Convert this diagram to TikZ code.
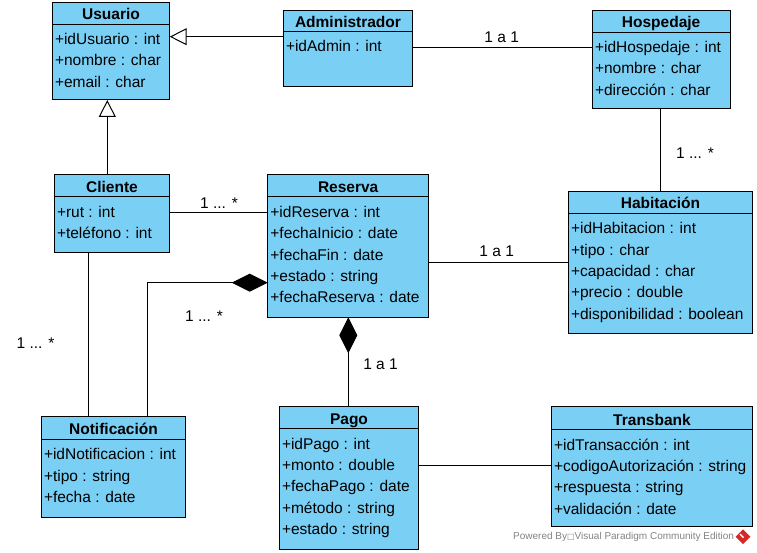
\documentclass[tikz,border=0pt]{standalone}
\usepackage{fontspec}
\setmainfont{Liberation Sans}
\newfontfamily\symfont{DejaVu Sans}
\usetikzlibrary{arrows.meta}
\definecolor{classfill}{RGB}{122,207,245}
\definecolor{wmgray}{RGB}{130,130,130}
\definecolor{logored}{RGB}{214,40,40}
\tikzset{
  classbox/.style={draw=black, fill=classfill, line width=1pt, inner sep=0pt, outer sep=0pt},
  boxline/.style={draw=black, line width=1pt},
  titletext/.style={font=\fontsize{15.5}{18}\selectfont\bfseries, inner sep=0pt, anchor=base},
  attrtext/.style={font=\fontsize{15.5}{18}\selectfont, inner sep=0pt, anchor=base west},
  multlabel/.style={font=\fontsize{15.5}{18}\selectfont, inner sep=0pt, anchor=center},
  assoc/.style={draw=black, line width=1pt},
  gen/.style={assoc, -{Triangle[open, length=17pt, width=17pt, line width=1pt]}},
  comp/.style={assoc, {Diamond[length=36pt, width=18pt]}-},
}
\newcommand{\umlbox}[8]{%
  \node[classbox, minimum width={#4-#2}, minimum height={#5-#3}, anchor=north west] (#1) at (#2,#3) {};
  \draw[boxline] (#2,#6) -- (#4,#6);
  \node[titletext] (#1-title) at ({(#2+#4)/2},#6-4.5) {#7};
  \foreach \attrtxt [count=\k from 0] in {#8} {
    \node[attrtext] (#1-a\k) at (#2+2.5,#6+20.3+21.4*\k) {\attrtxt};
  }%
}
\begin{document}
\begin{tikzpicture}[x=1pt, y=-1pt]
\useasboundingbox (0,0) rectangle (757,553);

\umlbox{usuario}{52.3}{2.3}{169.7}{100}{24.3}{Usuario}{+idUsuario : int, +nombre : char, +email : char}
\umlbox{admin}{283.3}{10.7}{412.7}{86.7}{31.7}{Administrador}{+idAdmin : int}
\umlbox{hosp}{592.3}{10.3}{730}{108.7}{32.3}{Hospedaje}{+idHospedaje : int, +nombre : char, +dirección : char}
\umlbox{cliente}{54.3}{175}{169.7}{252.3}{197}{Cliente}{+rut : int, +teléfono : int}
\umlbox{reserva}{267.7}{175}{428.7}{317.3}{197}{Reserva}{+idReserva : int, +fechaInicio : date, +fechaFin : date, +estado : string, +fechaReserva : date}
\umlbox{hab}{568.3}{191.7}{752.7}{333.3}{213.3}{Habitación}{+idHabitacion : int, +tipo : char, +capacidad : char, +precio : double, +disponibilidad : boolean}
\umlbox{notif}{41.3}{416.3}{185.7}{517.3}{439.3}{Notificación}{+idNotificacion : int, +tipo : string, +fecha : date}
\umlbox{pago}{279.3}{406.3}{418.7}{549}{428.7}{Pago}{+idPago : int, +monto : double, +fechaPago : date, +método : string, +estado : string}
\umlbox{trans}{551.3}{406.3}{752.7}{526.3}{429.7}{Transbank}{+idTransacción : int, +codigoAutorización : string, +respuesta : string, +validación : date}

% generalizations
\draw[gen] (admin.west |- 0,36.7) -- (usuario.east |- 0,36.7);
\draw[gen] (cliente.north -| 107.3,0) -- (usuario.south -| 107.3,0);

% associations
\draw[assoc] (admin.east |- 0,47.3) -- (hosp.west |- 0,47.3);
\node[multlabel] (l1) at (501.7,37.3) {1 a 1};
\draw[assoc] (hosp.south -| 660.3,0) -- (hab.north -| 660.3,0);
\node[multlabel] (l2) at (695,153) {1 ... *};
\draw[assoc] (cliente.east |- 0,212.7) -- (reserva.west |- 0,212.7);
\node[multlabel] (l3) at (219,202.7) {1 ... *};
\draw[assoc] (reserva.east |- 0,262.3) -- (hab.west |- 0,262.3);
\node[multlabel] (l4) at (496.7,251.7) {1 a 1};
\draw[comp] (reserva.west |- 0,282.7) -- (147.7,282.7) -- (notif.north -| 147.7,0);
\node[multlabel] (l5) at (204,316) {1 ... *};
\draw[assoc] (cliente.south -| 88.3,0) -- (notif.north -| 88.3,0);
\node[multlabel] (l6) at (35.5,342.7) {1 ... *};
\draw[comp] (reserva.south -| 348.3,0) -- (pago.north -| 348.3,0);
\node[multlabel] (l7) at (380.5,364) {1 a 1};
\draw[assoc] (pago.east |- 0,465.7) -- (trans.west |- 0,465.7);

% watermark
\node[font=\fontsize{10}{12}\selectfont, text=wmgray, inner sep=0pt, anchor=west] (wm) at (513,536.7)
  {Powered By{\symfont\fontsize{8}{10}\selectfont □}Visual Paradigm Community Edition};
\node[fill=logored, rotate=45, minimum size=10.5pt, inner sep=0pt] (logo) at (743,536.7) {};
\draw[white, line width=1.4pt] (logo.center) ++(-3,-2.5) -- ++(3.5,3.5);
\end{tikzpicture}
\end{document}
